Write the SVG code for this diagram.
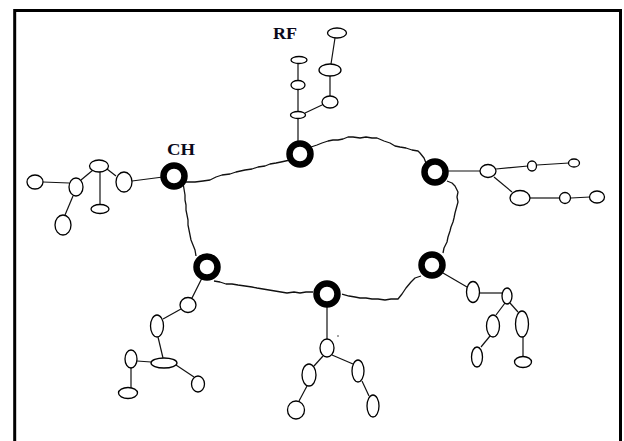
<svg xmlns="http://www.w3.org/2000/svg" width="624" height="441" viewBox="0 0 624 441">
<style>
.ch{fill:none;stroke:#000;stroke-width:6.5}
.m{fill:#fff;stroke:#000;stroke-width:1.3}
.l{fill:none;stroke:#111;stroke-width:1.2}
.ring{fill:none;stroke:#111;stroke-width:1.3;stroke-linejoin:round}
.lbl{font-family:"Liberation Serif",serif;font-weight:bold;font-size:16px;fill:#0a0a1a}
</style>
<rect width="624" height="441" fill="#fff"/>
<path d="M14.7,441 V10.5 H620.5 V441" fill="none" stroke="#000" stroke-width="3"/>
<g id="connectors">
<path class="ring" d="M183,182 L195,182 L203,181 L210,180 L216,177 L222,175 L230,174 L236,172 L245,170 L252,169 L258,167 L265,166 L270,164 L276,163 L281,162 L290,160"/>
<path class="ring" d="M311,147 L317,145 L322,143 L328,141 L333,140 L338,140 L343,139 L348,137 L353,137 L360,138 L366,137 L372,138 L377,138 L384,141 L390,143 L395,146 L400,147 L406,148 L412,150 L418,151 L420,153 L424,158 L426,163"/>
<path class="ring" d="M447,181 L452,183 L455,186 L458,192 L457,197 L458,202 L455,213 L454,218 L453,222 L451,227 L450,231 L448,237 L447,242 L444,248 L443,253"/>
<path class="ring" d="M421,276 L415,278 L411,282 L406,288 L404,291 L402,294 L398,299 L391,299 L385,300 L378,299 L372,299 L366,298 L360,298 L355,297 L349,296 L342,294"/>
<path class="ring" d="M313,292 L306,292 L300,293 L294,292 L287,293 L281,292 L275,291 L269,290 L263,289 L257,288 L252,287 L245,286 L238,285 L232,284 L226,284 L220,282 L214,281"/>
<path class="ring" d="M196,256 L195,250 L193,245 L191,240 L190,235 L189,230 L188,225 L188,220 L187,215 L186,210 L186,205 L185,200 L185,195 L184,189 L183,183"/>
<path class="l" d="M163,177 L132,181"/>
<path class="l" d="M116,176 L107,169"/>
<path class="l" d="M100,171 V204"/>
<path class="l" d="M93,170 L81,180"/>
<path class="l" d="M43,182 L69,183"/>
<path class="l" d="M73,196 L65,215"/>
<path class="l" d="M298,143 V118 M298,111 V90 M298,80 V63"/>
<path class="l" d="M305,113 L322,105"/>
<path class="l" d="M330,96 V76 M331,64 L335,38"/>
<path class="l" d="M446,171 L480,171"/>
<path class="l" d="M496,169 L528,166"/>
<path class="l" d="M537,165 L569,163"/>
<path class="l" d="M494,177 L512,192"/>
<path class="l" d="M530,198 L560,198"/>
<path class="l" d="M571,198 L590,197"/>
<path class="l" d="M202,278 L192,298"/>
<path class="l" d="M181,309 L163,319"/>
<path class="l" d="M158,337 L163,358"/>
<path class="l" d="M151,362 L137,361"/>
<path class="l" d="M131,368 V388"/>
<path class="l" d="M176,365 L194,377"/>
<path class="l" d="M327,306 V339"/>
<path class="l" d="M323,356 L314,366"/>
<path class="l" d="M307,386 L299,401"/>
<path class="l" d="M332,355 L353,364"/>
<path class="l" d="M362,381 L369,396"/>
<path class="l" d="M443,273 L467,287"/>
<path class="l" d="M480,293 L502,293"/>
<path class="l" d="M505,303 L496,315"/>
<path class="l" d="M490,336 L481,347"/>
<path class="l" d="M510,303 L518,312"/>
<path class="l" d="M523,337 V357"/>
</g>
<g id="ch1"><circle class="ch" cx="174" cy="176" r="10.5"/><text class="lbl" x="167" y="155" textLength="28" lengthAdjust="spacingAndGlyphs">CH</text></g>
<g id="ch2"><circle class="ch" cx="300" cy="154" r="10.5"/></g>
<g id="ch3"><circle class="ch" cx="435" cy="172" r="10.5"/></g>
<g id="ch4"><circle class="ch" cx="207" cy="267" r="10.5"/></g>
<g id="ch5"><circle class="ch" cx="327" cy="294" r="10.5"/></g>
<g id="ch6"><circle class="ch" cx="432" cy="265" r="10.5"/></g>
<g id="rf"><text class="lbl" x="273" y="39" textLength="24" lengthAdjust="spacingAndGlyphs">RF</text></g>
<g id="top-members">
<ellipse class="m" cx="298" cy="115" rx="7.5" ry="3.5"/>
<ellipse class="m" cx="298" cy="85" rx="7" ry="4.5"/>
<ellipse class="m" cx="299" cy="60" rx="8" ry="3.5"/>
<ellipse class="m" cx="330" cy="102" rx="8" ry="6"/>
<ellipse class="m" cx="330" cy="70" rx="11" ry="6"/>
<ellipse class="m" cx="337" cy="33" rx="9.5" ry="5"/>
</g>
<g id="left-members">
<ellipse class="m" cx="124" cy="182" rx="8" ry="10"/>
<ellipse class="m" cx="99" cy="166" rx="9.5" ry="6"/>
<ellipse class="m" cx="100" cy="209" rx="9" ry="4.5"/>
<ellipse class="m" cx="76" cy="187" rx="7" ry="9"/>
<ellipse class="m" cx="35" cy="182" rx="8" ry="7"/>
<ellipse class="m" cx="63" cy="225" rx="8" ry="10"/>
</g>
<g id="right-top-members">
<ellipse class="m" cx="488" cy="171" rx="8" ry="6.5"/>
<ellipse class="m" cx="532" cy="166" rx="4.5" ry="5"/>
<ellipse class="m" cx="574" cy="163" rx="5.5" ry="4"/>
<ellipse class="m" cx="520" cy="198" rx="10" ry="7.5"/>
<ellipse class="m" cx="565" cy="198" rx="5.5" ry="5.5"/>
<ellipse class="m" cx="597" cy="197" rx="7.5" ry="6"/>
</g>
<g id="left-bottom-members">
<ellipse class="m" cx="188" cy="305" rx="8" ry="7.5"/>
<ellipse class="m" cx="157" cy="326" rx="6.5" ry="11"/>
<ellipse class="m" cx="164" cy="363" rx="13" ry="5"/>
<ellipse class="m" cx="131" cy="359" rx="6" ry="9"/>
<ellipse class="m" cx="128" cy="393" rx="9.5" ry="5.5"/>
<ellipse class="m" cx="198" cy="384" rx="6.5" ry="8"/>
</g>
<g id="bottom-members">
<ellipse class="m" cx="327" cy="348" rx="7" ry="9"/>
<ellipse class="m" cx="309" cy="375" rx="7" ry="11"/>
<ellipse class="m" cx="296" cy="410" rx="8.5" ry="9"/>
<ellipse class="m" cx="358" cy="371" rx="6" ry="11"/>
<ellipse class="m" cx="373" cy="406" rx="6" ry="11"/>
<circle cx="338" cy="336" r="0.8" fill="#333"/>
</g>
<g id="right-bottom-members">
<ellipse class="m" cx="473" cy="292" rx="6.5" ry="10.5"/>
<ellipse class="m" cx="507" cy="296" rx="5" ry="8"/>
<ellipse class="m" cx="493" cy="326" rx="6.5" ry="11"/>
<ellipse class="m" cx="477" cy="357" rx="5.5" ry="10"/>
<ellipse class="m" cx="522" cy="324" rx="6.5" ry="13"/>
<ellipse class="m" cx="523" cy="362" rx="8.5" ry="5.5"/>
</g>
</svg>
